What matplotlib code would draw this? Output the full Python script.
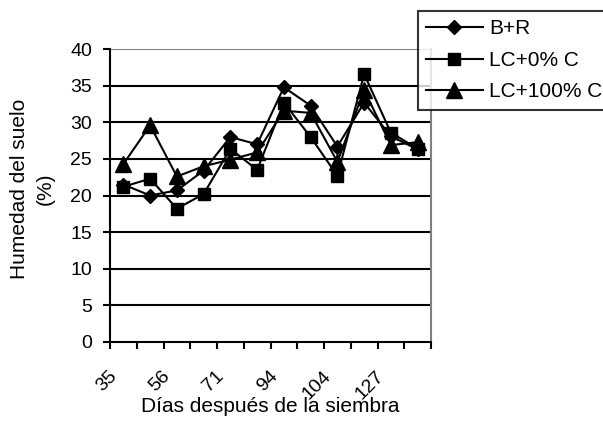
import matplotlib
matplotlib.use("Agg")
import matplotlib.pyplot as plt
import matplotlib.transforms as mtransforms
import numpy as np

plt.rcParams['font.family'] = ['Liberation Sans', 'DejaVu Sans']

dias = ["35", "42", "56", "63", "71", "84", "94", "98", "104", "115", "127", "134"]
shown = [True, False] * 6
br = [21.5, 20.0, 20.7, 23.4, 28.0, 27.0, 34.8, 32.3, 26.7, 32.7, 28.1, 26.3]
lc0 = [21.2, 22.3, 18.2, 20.2, 26.4, 23.5, 32.7, 28.0, 22.7, 36.6, 28.6, 26.4]
lc100 = [24.3, 29.6, 22.6, 24.0, 24.9, 25.9, 31.6, 31.3, 24.6, 34.4, 26.9, 27.3]
series_names = ["B+R", "LC+0% C", "LC+100% C"]

fig = plt.figure(figsize=(6.03, 4.21), dpi=100)
ax = fig.add_axes([110/603, 1-341.7/421, (431-110)/603, (341.7-49.3)/421])

x = np.arange(len(dias))
l1, = ax.plot(x, br, color='black', lw=1.5, marker='D', ms=7, label=series_names[0], zorder=5)
l2, = ax.plot(x, lc0, color='black', lw=1.5, marker='s', ms=9, label=series_names[1], zorder=4)
l3, = ax.plot(x, lc100, color='black', lw=1.5, marker='^', ms=11, label=series_names[2], zorder=3)

ax.set_xlim(-0.5, len(dias) - 0.5)
ax.set_ylim(0, 40)
ax.set_yticks(np.arange(0, 41, 5))
for v in range(5, 40, 5):
    ax.axhline(v, color='black', lw=1.5, zorder=1)
ax.axhline(40, color='#808080', lw=1.5, zorder=1)

ax.set_xticks(x)
ax.set_xticklabels([d if s else "" for d, s in zip(dias, shown)], rotation=45,
                   ha='right', va='top', rotation_mode='anchor', fontsize=14)
ax.tick_params(axis='x', which='major', length=0, pad=0)
offset = mtransforms.ScaledTranslation(-0.15, -0.26, fig.dpi_scale_trans)
for lab in ax.get_xticklabels():
    lab.set_transform(lab.get_transform() + offset)
ax.set_xticks(np.arange(-0.5, len(dias), 1.0), minor=True)
ax.tick_params(axis='x', which='minor', length=5, width=1.5, direction='out')
ax.tick_params(axis='y', length=5, width=1.5, direction='out', labelsize=14, pad=8)

for s in ['left', 'bottom']:
    ax.spines[s].set_linewidth(1.5)
    ax.spines[s].set_color('black')
ax.spines['right'].set_color('#808080')
ax.spines['right'].set_linewidth(1.5)
ax.spines['top'].set_visible(False)

fig.text(270/603, 1-407/421, "Días después de la siembra", fontsize=15,
         ha='center', va='center')
fig.text(32/603, 1-189/421, "Humedad del suelo\n(%)", fontsize=15, rotation=90,
         ha='center', va='center', multialignment='center', linespacing=1.45)

leg = fig.legend(handles=[l1, l2, l3], loc='upper left', bbox_to_anchor=(418/603, 1-11/421),
                 fontsize=15, frameon=True, fancybox=False, edgecolor='black',
                 handlelength=2.7, handletextpad=0.3, borderpad=0.4, labelspacing=0.6,
                 borderaxespad=0)
leg.get_frame().set_linewidth(1.5)

fig.savefig("out.png", dpi=100)
